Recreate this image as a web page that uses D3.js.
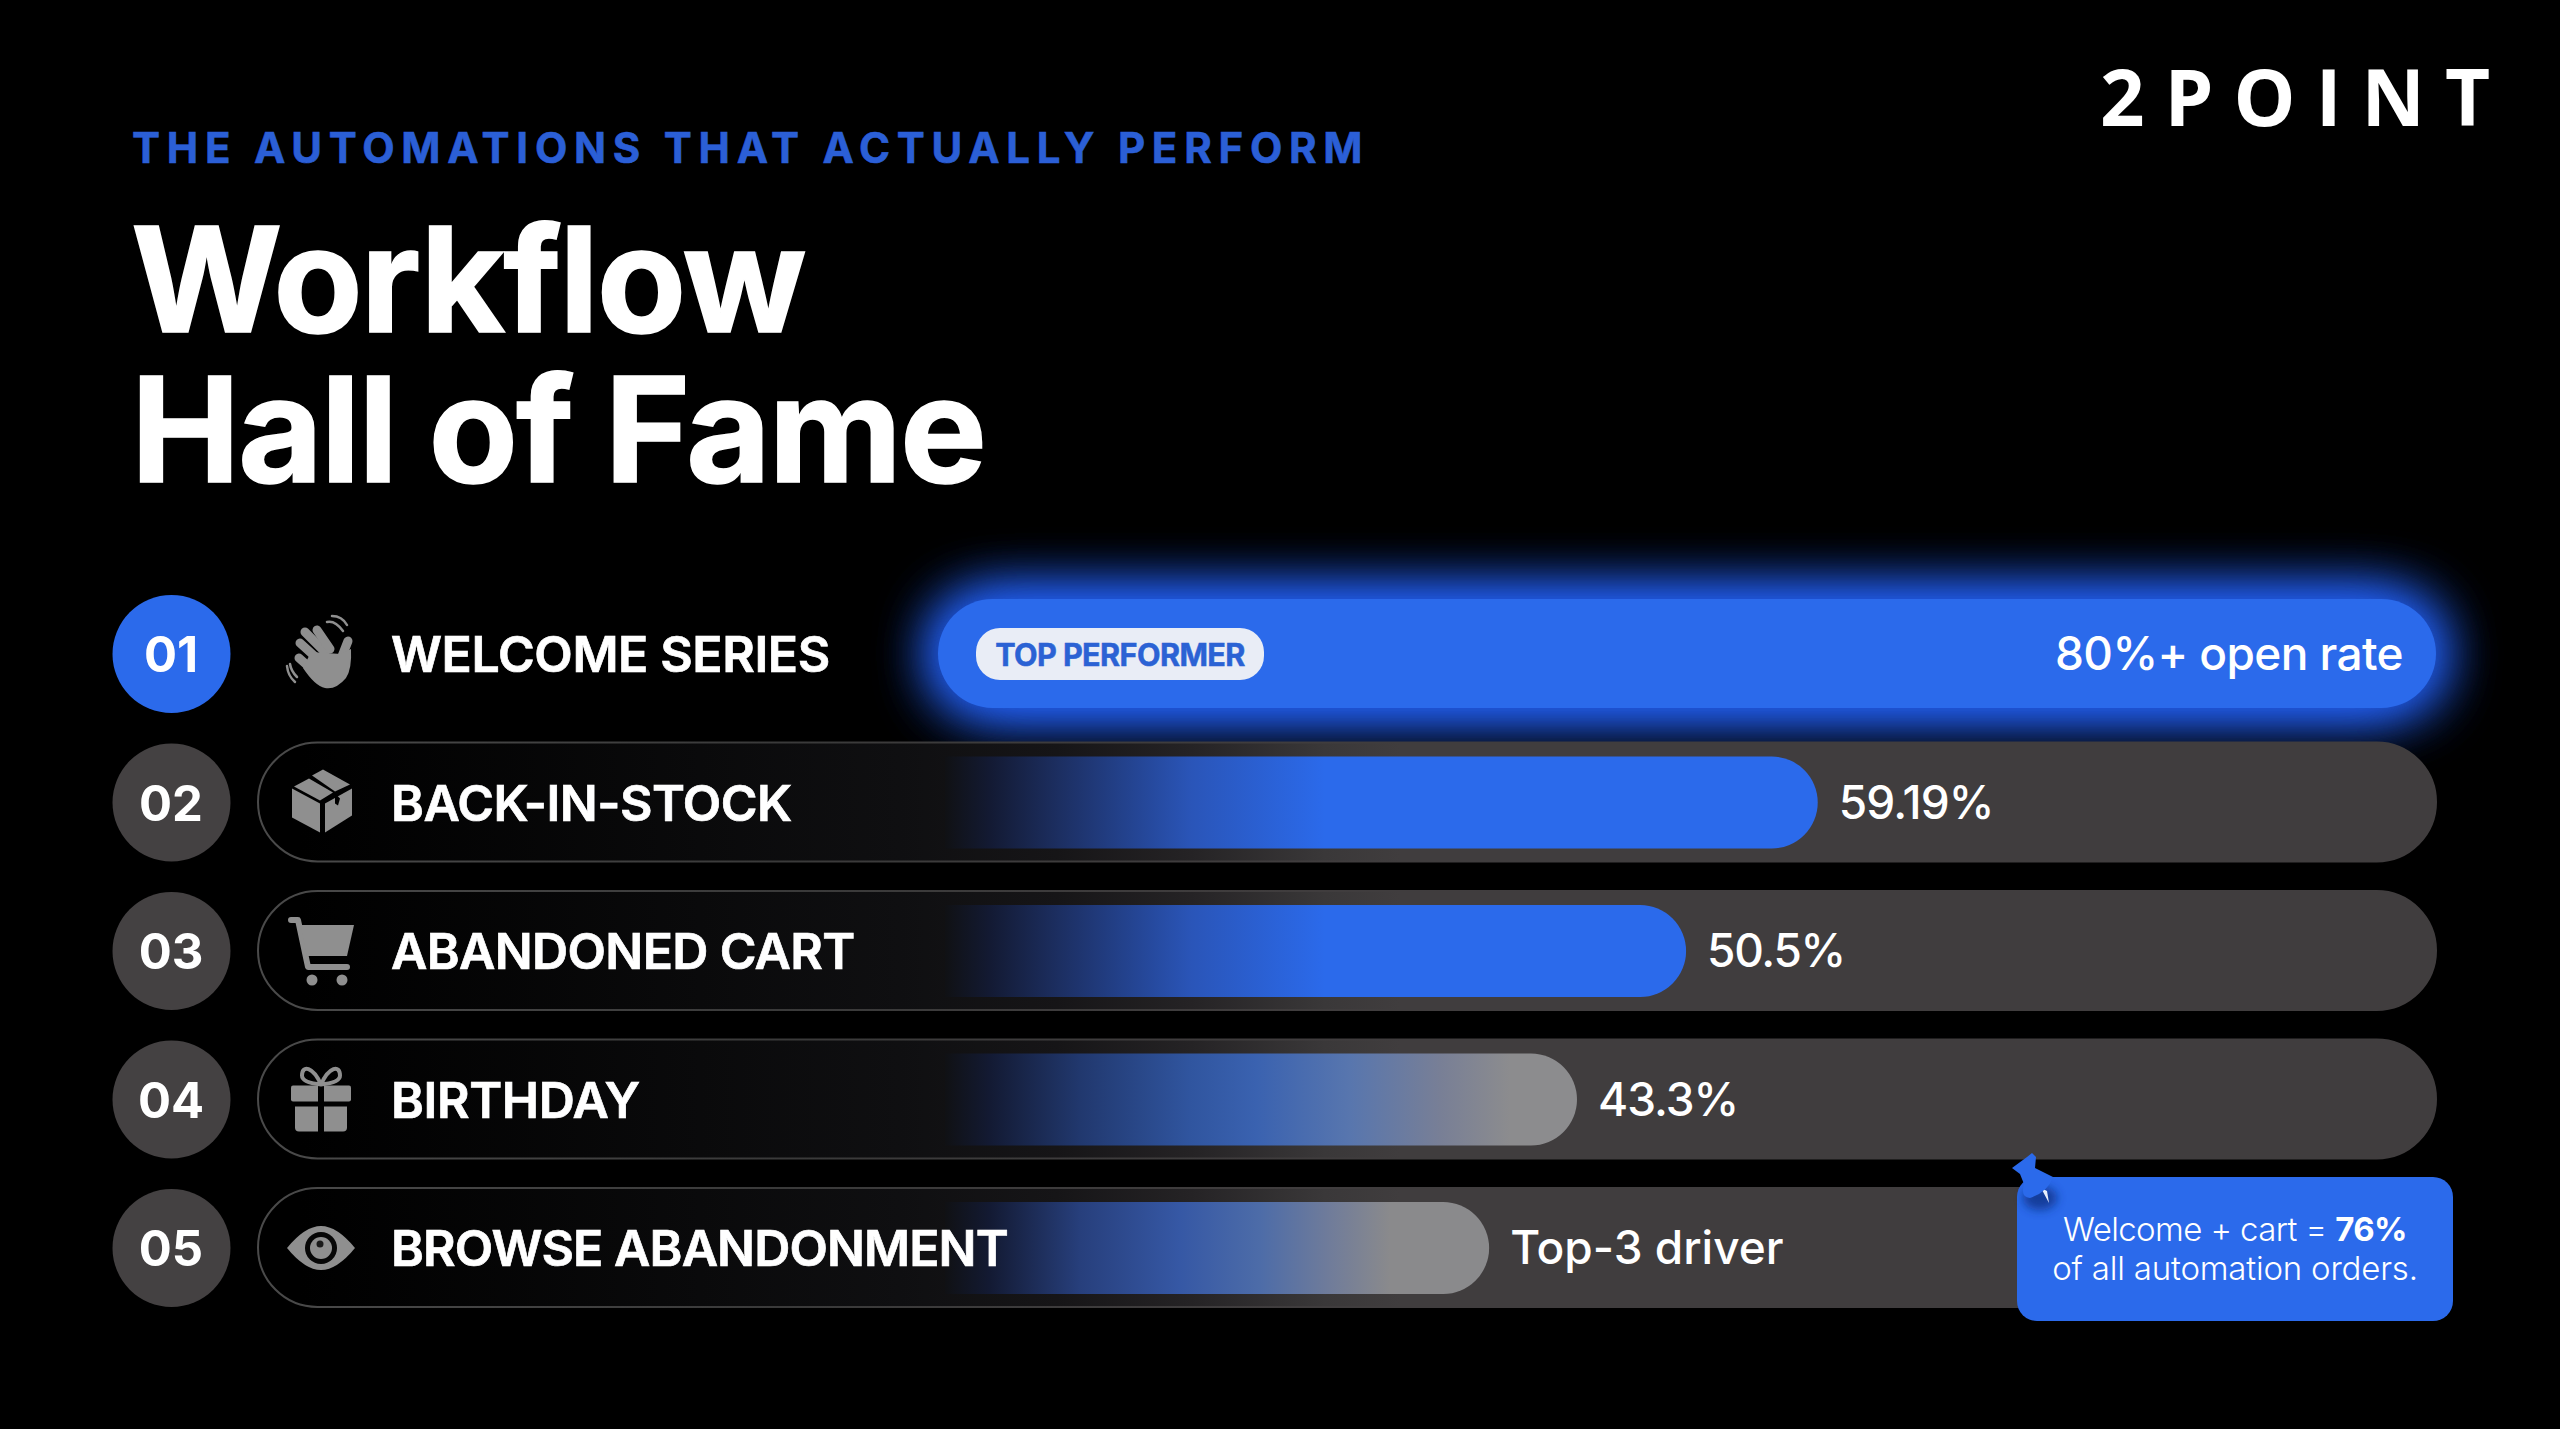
<!DOCTYPE html>
<html><head><meta charset="utf-8">
<script src="https://cdnjs.cloudflare.com/ajax/libs/d3/7.8.5/d3.min.js"></script>
<style>html,body{margin:0;padding:0;background:#000;overflow:hidden}svg{display:block}text{font-family:Inter,sans-serif}</style>
</head><body><svg id="c" width="2560" height="1429"></svg>
<script>
const ranks=["01","02","03","04","05"];
const categories=["WELCOME SERIES","BACK-IN-STOCK","ABANDONED CART","BIRTHDAY","BROWSE ABANDONMENT"];
const barValues=[100,59.19,50.5,43.3,37.5];
const valueLabels=["80%+ open rate","59.19%","50.5%","43.3%","Top-3 driver"];
const icons=["wave","box","cart","gift","eye"];
const titleLines=["Workflow","Hall of Fame"];
const BLUE="#2b6aeb",GREY="#403d3e";
const svg=d3.select("#c");
const defs=svg.append("defs");
svg.append("rect").attr("width",2560).attr("height",1429).attr("fill","#000");
const xScale=d3.scaleLinear().domain([0,100]).range([921,2436]);
const yScale=d3.scalePoint().domain(categories).range([654,1248]);
const glow=defs.append("filter").attr("id","glow").attr("x","-12%").attr("y","-150%").attr("width","124%").attr("height","400%").attr("color-interpolation-filters","sRGB");
glow.append("feGaussianBlur").attr("stdDeviation",30);
const shadow=defs.append("filter").attr("id","pinShadow").attr("x","-60%").attr("y","-60%").attr("width","220%").attr("height","220%");
shadow.append("feGaussianBlur").attr("stdDeviation",5);
const TX0=300,TX1=1400;
const tg=defs.append("linearGradient").attr("id","track").attr("gradientUnits","userSpaceOnUse").attr("x1",TX0).attr("x2",TX1).attr("y1",0).attr("y2",0);
[[300,"#000"],[700,"#0a0a0b"],[900,"#0f0f11"],[1057,"#161517"],[1191,"#252325"],[1325,"#3a3839"],[1400,GREY]].forEach(s=>tg.append("stop").attr("offset",(s[0]-TX0)/(TX1-TX0)).attr("stop-color",s[1]));
const edge=defs.append("linearGradient").attr("id","edge").attr("gradientUnits","userSpaceOnUse").attr("x1",258).attr("x2",1300).attr("y1",0).attr("y2",0);
[[0,"#4a4a4a"],[.5,"#3a3a3a"],[1,GREY]].forEach(s=>edge.append("stop").attr("offset",s[0]).attr("stop-color",s[1]));
function barGrad(id,stops){const g=defs.append("linearGradient").attr("id",id).attr("gradientUnits","userSpaceOnUse").attr("x1",945).attr("x2",1816).attr("y1",0).attr("y2",0);
 stops.forEach(s=>g.append("stop").attr("offset",(s[0]-945)/871).attr("stop-color",s[1]));}
barGrad("b1",[[945,"#101114"],[990,"#131a33"],[1057,"#1c2e60"],[1191,"#2a55b8"],[1325,BLUE],[1816,BLUE]]);
barGrad("b2",[[945,"#101114"],[990,"#131a33"],[1057,"#1c2e60"],[1191,"#2a55b8"],[1325,BLUE],[1816,BLUE]]);
barGrad("b3",[[945,"#101114"],[990,"#131a33"],[1080,"#21386e"],[1190,"#30559f"],[1256,"#3a62b0"],[1350,"#5876ae"],[1440,"#787f96"],[1510,"#8c8c8e"],[1816,"#8c8c8e"]]);
barGrad("b4",[[945,"#101114"],[990,"#131a33"],[1080,"#273f7c"],[1180,"#3658a5"],[1260,"#4d6ca8"],[1330,"#707c9a"],[1390,"#8a8a8c"],[1816,"#8a8a8c"]]);
const fills=[null,"url(#b1)","url(#b2)","url(#b3)","url(#b4)"];
const labelSpacing=[-.4,-.55,-.65,-.4,-.9];
const valueSpacing=[-.6,-.8,-1.3,-1,0];

svg.append("text").attr("x",132).attr("y",163).attr("fill","#2b5fd6").attr("stroke","#2b5fd6").attr("stroke-width",.6).attr("font-size",42).attr("font-weight",700).attr("letter-spacing",6.76).text("THE AUTOMATIONS THAT ACTUALLY PERFORM");
svg.selectAll(".t").data(titleLines).join("text").attr("class","t").attr("x",131).attr("y",(d,i)=>332+i*150).attr("fill","#fff").attr("stroke","#fff").attr("stroke-width",1.5).attr("font-size",146).attr("font-weight",700).attr("letter-spacing",-2).text(d=>d);
svg.append("text").attr("x",2100).attr("y",126).attr("fill","#fff").style("font-family","'Open Sans'").attr("font-size",78).attr("font-weight",700).attr("letter-spacing",20).text("2POINT");

const rows=svg.selectAll(".row").data(categories.map((c,i)=>({c,i,v:barValues[i],l:valueLabels[i],r:ranks[i],ic:icons[i]}))).join("g").attr("class","row").attr("transform",d=>`translate(0,${yScale(d.c)})`);
rows.filter(d=>d.i>0).append("rect").attr("x",258).attr("y",-60).attr("width",2178).attr("height",119).attr("rx",59.5).attr("fill","url(#track)").attr("stroke","url(#edge)").attr("stroke-width",2);
rows.filter(d=>d.i>0).append("path").attr("d",d=>{const e=xScale(d.v);return `M945 -46H${e-46}A46 46 0 0 1 ${e-46} 46H945Z`;}).attr("fill",d=>fills[d.i]);
const firstRow=rows.filter(d=>d.i===0);
[1,1,.6].forEach(o=>firstRow.append("rect").attr("x",938).attr("y",-55).attr("width",d=>xScale(d.v)-938).attr("height",109).attr("rx",54.5).attr("fill","#2464ff").attr("filter","url(#glow)").attr("opacity",o));
firstRow.append("rect").attr("x",938).attr("y",-55).attr("width",d=>xScale(d.v)-938).attr("height",109).attr("rx",54.5).attr("fill",BLUE);
firstRow.append("rect").attr("x",976).attr("y",-26).attr("width",288).attr("height",52).attr("rx",24).attr("fill","#e9edf6");
firstRow.append("text").attr("x",1120).attr("y",11.5).attr("text-anchor","middle").attr("fill","#2b62d4").attr("stroke","#2b62d4").attr("stroke-width",.5).attr("font-size",30.6).attr("font-weight",700).attr("letter-spacing",-.6).text("TOP PERFORMER");
rows.append("circle").attr("cx",171.5).attr("r",59).attr("fill",d=>d.i===0?BLUE:"#444142");
rows.append("text").attr("x",171).attr("y",18).attr("text-anchor","middle").attr("fill","#fff").attr("font-size",49).attr("font-weight",700).text(d=>d.r);
rows.append("text").attr("x",391).attr("y",18).attr("fill","#fff").attr("stroke","#fff").attr("stroke-width",.7).attr("font-size",50).attr("font-weight",600).attr("letter-spacing",d=>labelSpacing[d.i]).text(d=>d.c);
rows.append("text").attr("x",d=>d.i===0?2403:xScale(d.v)+21).attr("y",16).attr("text-anchor",d=>d.i===0?"end":"start").attr("fill","#fff").attr("font-size",46).attr("font-weight",500).attr("letter-spacing",d=>valueSpacing[d.i]).text(d=>d.l);

const ICON="#8f8f8f";
const iconG=rows.append("g").attr("fill",ICON).attr("transform","translate(321,0)");
iconG.each(function(d){const g=d3.select(this);
 const p=(a,f)=>g.append("path").attr("d",a).attr("fill",f||ICON);
 const s=(a,w)=>g.append("path").attr("d",a).attr("fill","none").attr("stroke",ICON).attr("stroke-width",w).attr("stroke-linecap","round").attr("stroke-linejoin","round");
 if(d.ic==="wave"){
  s("M-16 -22L4 -2",9);s("M-4 -24L9 -5",9);s("M-21 -11L0 8",9);s("M-22 4L-4 20",9);s("M27 -13L18 10",9);
  p("M-10 -2L20 0L30 -5Q31 15 25 24Q15 36 4 34Q-6 32 -18 14Z");
  s("M6 -32Q14 -34 22 -23M11 -38Q21 -38 26 -29",2.5);
  s("M-31 10Q-30 17 -24 23M-34 12Q-33 22 -26 28",2.5);
 } else if(d.ic==="box"){
  p("M-29 -14L-1 1V30L-29 15Z");
  p("M4 1L31 -14V13L4 30Z");
  p("M-27 -16L-12 -24L12 -10L-1 -2Z");
  p("M-9 -27L2 -33L29 -18L14 -11Z");
  p("M14 -9V1L17 3L19 -4Z","#000");
 } else if(d.ic==="cart"){
  s("M-30 -31H-23L-13 16H26",6);
  p("M-20 -26H33L26 5H-14Z");
  g.append("circle").attr("cx",-9).attr("cy",29).attr("r",5.5);
  g.append("circle").attr("cx",21).attr("cy",29).attr("r",5.5);
 } else if(d.ic==="gift"){
  p("M-28 -14H-3V2H-28Q-30 2 -30 0V-12Q-30 -14 -28 -14Z");
  p("M3 -14H28Q30 -14 30 -12V0Q30 2 28 2H3Z");
  p("M-26 7H-3V32H-22Q-26 32 -26 28Z");
  p("M3 7H26V28Q26 32 22 32H3Z");
  s("M0 -15C-8 -33 -19 -35 -19 -24C-19 -18 -10 -16 0 -15C10 -16 19 -18 19 -24C19 -35 8 -33 0 -15",4);
 } else {
  p("M-34 0Q-16 -22 0 -22Q16 -22 34 0Q16 22 0 22Q-16 22 -34 0Z");
  g.append("circle").attr("r",16).attr("fill","#060606");
  g.append("circle").attr("r",11).attr("fill",ICON);
  g.append("circle").attr("cx",-1).attr("cy",-4).attr("r",3.5).attr("fill","#1a1a1a");
 }
});

const note=svg.append("g");
note.append("rect").attr("x",2017).attr("y",1177).attr("width",436).attr("height",144).attr("rx",20).attr("fill",BLUE);
note.append("ellipse").attr("cx",2040).attr("cy",1198).attr("rx",17).attr("ry",12).attr("fill","#0f2f80").attr("filter","url(#pinShadow)").attr("opacity",.75);
note.append("path").attr("d","M2041 1188L2047 1191L2049 1203Z").attr("fill","#e8eefc");
note.append("path").attr("d","M2012 1168L2027 1157L2032 1153L2036 1157L2035 1168L2053 1177Q2048 1192 2030 1198Q2020 1197 2024 1184L2020 1174Z").attr("fill",BLUE);
const t1=note.append("text").attr("x",2235).attr("y",1241).attr("text-anchor","middle").attr("fill","#fff").attr("font-size",33).attr("font-weight",300).attr("letter-spacing",-.6);
t1.append("tspan").text("Welcome + cart = ");
t1.append("tspan").attr("font-weight",700).text("76%");
note.append("text").attr("x",2235).attr("y",1280).attr("text-anchor","middle").attr("fill","#fff").attr("font-size",33).attr("font-weight",300).attr("letter-spacing",-.2).text("of all automation orders.");
</script></body></html>
